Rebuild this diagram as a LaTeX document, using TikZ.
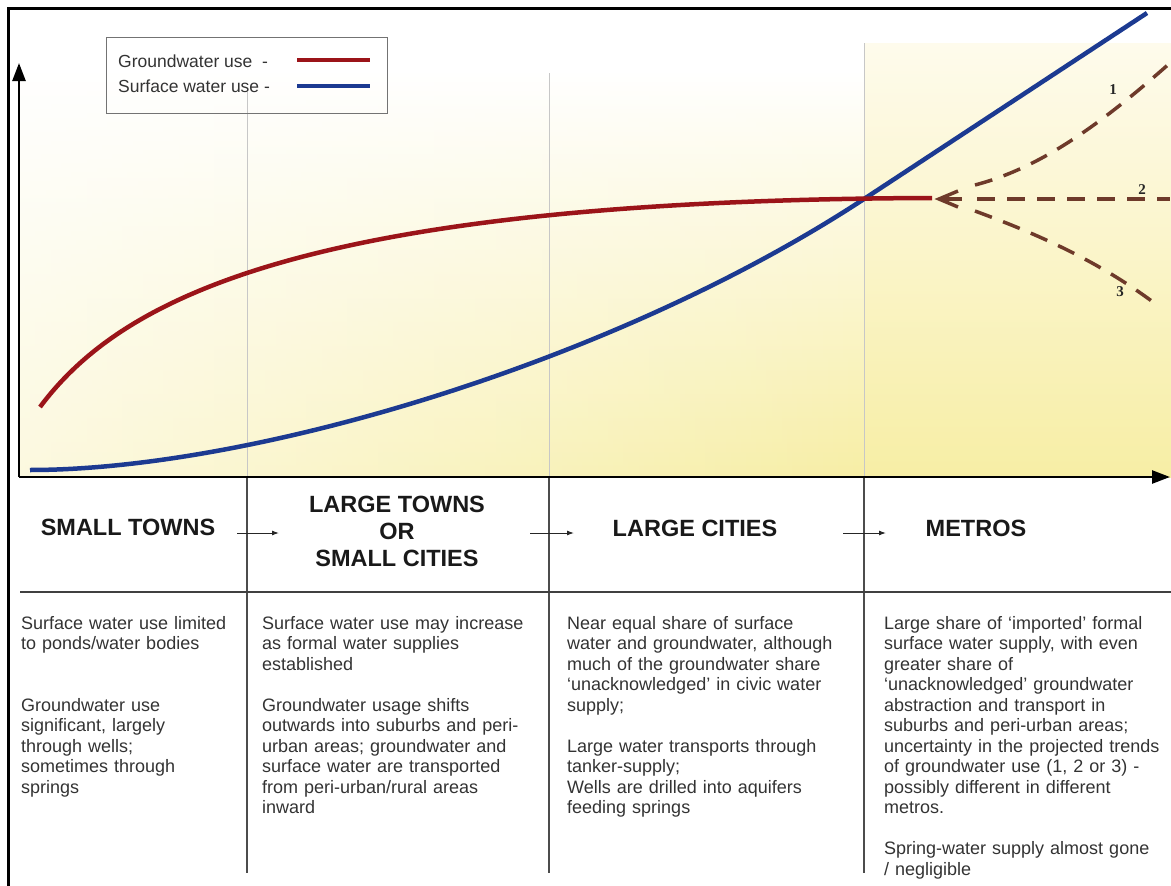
\documentclass[tikz,border=0pt]{standalone}
\usepackage{fontspec}
\setmainfont{Liberation Sans}
\newfontfamily\numfont{Liberation Serif}
\usetikzlibrary{arrows.meta,fadings}
\definecolor{gwred}{RGB}{155,20,25}
\definecolor{swblue}{RGB}{28,58,145}
\definecolor{trendbrown}{RGB}{110,58,42}
\definecolor{plotyellow}{RGB}{247,238,165}
\definecolor{midyellow}{RGB}{252,248,220}
\definecolor{paleyellow}{RGB}{254,251,236}
\tikzfading[name=paleleft,left color=transparent!35,right color=transparent!100]
\begin{document}
\begin{tikzpicture}[x=1pt,y=-1pt,
    gw/.style={gwred,line width=4.5pt},
    sw/.style={swblue,line width=4.5pt},
    trend/.style={trendbrown,line width=3.5pt,dash pattern=on 18pt off 12pt},
    stage/.style={font=\fontsize{23.5}{27}\selectfont\bfseries,align=center,text=black!90},
    note/.style={anchor=base west,inner sep=0pt,text width=300pt,align=left,
        font=\fontsize{18}{20.5}\selectfont,text=black!80},
    flow/.style={-{Latex[length=7pt,width=5pt]},line width=1pt,black!85},
    trendno/.style={font=\numfont\bfseries\fontsize{15}{15}\selectfont,text=black!85,inner sep=0pt}]
    \useasboundingbox (0,0) rectangle (1171,886);

    \shade[top color=white,middle color=midyellow,bottom color=plotyellow] (20,70) rectangle (864,477);
    \fill[white,path fading=paleleft] (20,70) rectangle (864,477);
    \shade[top color=paleyellow,middle color=midyellow!70!plotyellow,bottom color=plotyellow] (864,43) rectangle (1171,477);

    \draw[line width=3pt] (8,886) -- (8,8) -- (1171,8);

    \foreach \x/\top in {247/92,549/73,864/43} {
        \draw[black!22,line width=1pt] (\x,\top) -- (\x,477);
        \draw[black!70,line width=1.2pt] (\x,477) -- (\x,873);
    }
    \draw[black!75,line width=1.2pt] (20,592) -- (1171,592);

    \coordinate (origin) at (19,477);
    \coordinate (xtip) at (1170,477);
    \coordinate (ytip) at (19,63);
    \draw[line width=2.5pt,-{Triangle[length=18pt,width=13pt]}] (origin) -- (xtip);
    \draw[line width=2.5pt,-{Triangle[length=18pt,width=13pt]}] (origin) -- (ytip);

    \draw[sw] (30,470) .. controls (250,470) and (614,363) .. (864,199) -- (1147,13);
    \draw[gw] (40,407) .. controls (120,300) and (300,200) .. (932,198);

    \draw[trend] (975,185) .. controls (1040,168) and (1100,125) .. (1170,63);
    \draw[trend] (977,199) -- (1170,199);
    \draw[trend] (975,211) .. controls (1040,235) and (1100,262) .. (1157,305);
    \draw[trendbrown,line width=3.5pt] (958,191) -- (939,199) -- (958,207);
    \draw[trendbrown,line width=3.5pt] (941,199) -- (962,199);
    \node[trendno] (t1) at (1113,90) {1};
    \node[trendno] (t2) at (1142,190) {2};
    \node[trendno] (t3) at (1120,292) {3};

    \node[draw=black!55,line width=0.8pt,minimum width=281pt,minimum height=76pt,
        anchor=north west,inner sep=0pt] (key) at (106,37) {};
    \node[anchor=west,inner sep=0pt,font=\fontsize{17.5}{20}\selectfont,text=black!80]
        (keygw) at (118,61) {Groundwater use\ \ -};
    \node[anchor=west,inner sep=0pt,font=\fontsize{17.5}{20}\selectfont,text=black!80]
        (keysw) at (118,86) {Surface water use -};
    \draw[gw] (297,60) -- (370,60);
    \draw[sw] (297,86) -- (370,86);

    \node[stage] (small) at (128,527) {SMALL TOWNS};
    \node[stage] (large) at (397,531) {LARGE TOWNS\\OR\\SMALL CITIES};
    \node[stage] (cities) at (695,528) {LARGE CITIES};
    \node[stage] (metros) at (976,528) {METROS};
    \coordinate (f1) at (237,533); \coordinate (f2) at (279,533);
    \coordinate (f3) at (530,533); \coordinate (f4) at (574,533);
    \coordinate (f5) at (843,533); \coordinate (f6) at (886,533);
    \draw[flow] (f1) -- (f2);
    \draw[flow] (f3) -- (f4);
    \draw[flow] (f5) -- (f6);

    \node[note] (n1) at (21,629) {Surface water use limited\\
        to ponds/water bodies\\[41pt]
        Groundwater use\\
        significant, largely\\
        through wells;\\
        sometimes through\\
        springs};
    \node[note] (n2) at (262,629) {Surface water use may increase\\
        as formal water supplies\\
        established\\[20.5pt]
        Groundwater usage shifts\\
        outwards into suburbs and peri-\\
        urban areas; groundwater and\\
        surface water are transported\\
        from peri-urban/rural areas\\
        inward};
    \node[note] (n3) at (567,629) {Near equal share of surface\\
        water and groundwater, although\\
        much of the groundwater share\\
        ‘unacknowledged’ in civic water\\
        supply;\\[20.5pt]
        Large water transports through\\
        tanker-supply;\\
        Wells are drilled into aquifers\\
        feeding springs};
    \node[note] (n4) at (884,629) {Large share of ‘imported’ formal\\
        surface water supply, with even\\
        greater share of\\
        ‘unacknowledged’ groundwater\\
        abstraction and transport in\\
        suburbs and peri-urban areas;\\
        uncertainty in the projected trends\\
        of groundwater use (1, 2 or 3) -\\
        possibly different in different\\
        metros.\\[20.5pt]
        Spring-water supply almost gone\\
        / negligible};
\end{tikzpicture}
\end{document}
